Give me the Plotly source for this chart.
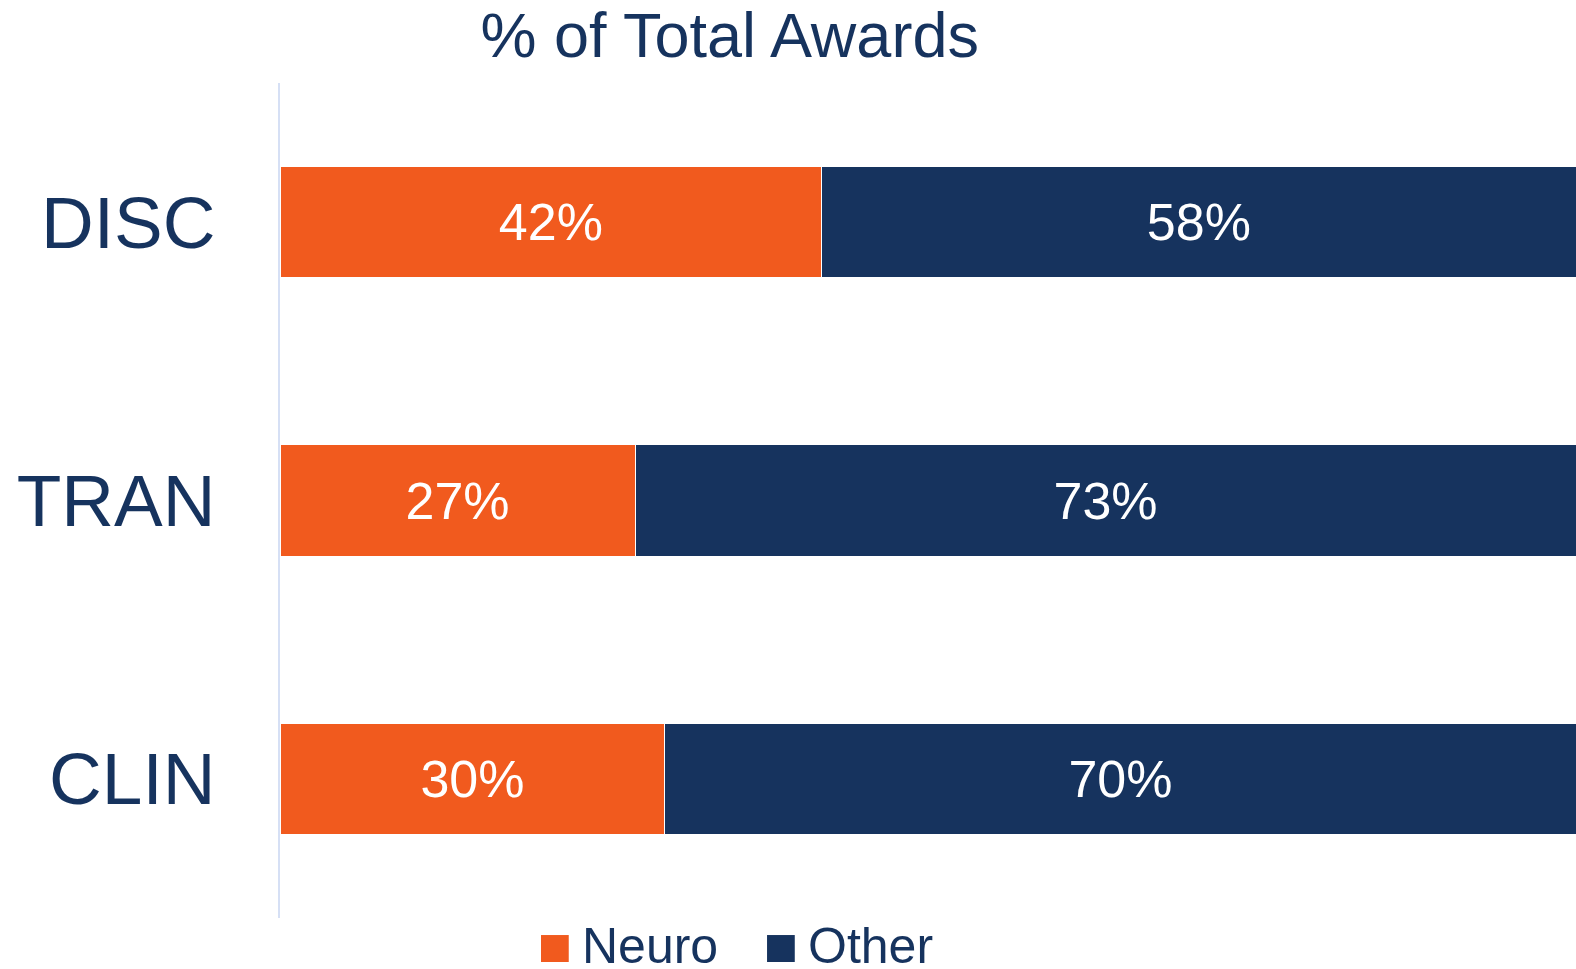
import plotly.graph_objects as go

# data ------------------------------------------------------------------------
categories = ["DISC", "TRAN", "CLIN"]
series_names = ["Neuro", "Other"]
neuro_pct = [41.8, 27.4, 29.7]
other_pct = [58.2, 72.6, 70.3]

# style -----------------------------------------------------------------------
orange = "#F15A1E"
navy = "#16335E"
font_family = "Liberation Sans, Arial, sans-serif"

fig = go.Figure()

for name, vals, col in zip(series_names, [neuro_pct, other_pct], [orange, navy]):
    fig.add_trace(go.Bar(
        y=categories, x=vals, name=name, orientation="h",
        marker=dict(color=col, line=dict(color="white", width=1)),
        texttemplate="%{x:.0f}%", textposition="inside",
        insidetextanchor="middle",
        textfont=dict(color="white", size=52, family=font_family),
        showlegend=False,
    ))

fig.update_layout(
    barmode="stack",
    bargap=0.6,
    width=1576, height=969,
    margin=dict(l=280, r=0, t=83, b=51, autoexpand=False),
    plot_bgcolor="white", paper_bgcolor="white",
    font=dict(family=font_family, color=navy),
    title=dict(text="% of Total Awards", x=0.463, xanchor="center",
               y=0.964, yanchor="middle", yref="container",
               font=dict(size=63, color=navy, family=font_family)),
    uniformtext=dict(mode="show", minsize=10),
)

fig.update_xaxes(range=[0, 100], visible=False, showgrid=False)
fig.update_yaxes(categoryorder="array", categoryarray=categories,
                 autorange="reversed", showgrid=False, zeroline=False,
                 showline=True, linecolor="#D6E0F5", linewidth=2,
                 ticks="", ticklabelstandoff=48,
                 tickfont=dict(size=73, color=navy, family=font_family))

# legend drawn by hand so the swatches can match the big text -----------------
legend_x = [0.2014, 0.3758]
for name, col, x0 in zip(series_names, [orange, navy], legend_x):
    fig.add_shape(type="rect", xref="paper", yref="paper",
                  x0=x0, x1=x0 + 0.0214, y0=-0.0527, y1=-0.0204,
                  fillcolor=col, line=dict(width=0))
    fig.add_annotation(text=name, xref="paper", yref="paper",
                       x=x0 + 0.0297, y=-0.0335, xanchor="left", yanchor="middle",
                       showarrow=False,
                       font=dict(size=50, color=navy, family=font_family))

# drop the default page margin so the figure fills the window exactly
fig.write_html("out.html", config={"displayModeBar": False},
               post_script="document.body.style.margin='0';")
